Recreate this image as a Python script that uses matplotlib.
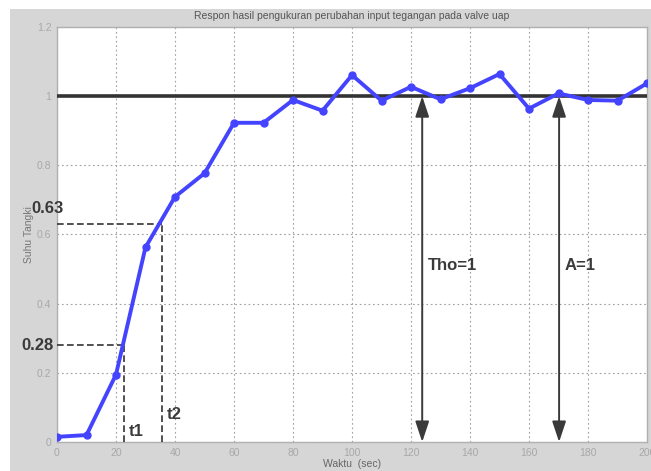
import matplotlib
matplotlib.use("Agg")
import matplotlib.pyplot as plt
from matplotlib.patches import Rectangle

plt.rcParams["font.family"] = ["Liberation Sans", "DejaVu Sans"]

# Data: step response of tank temperature
waktu = [0, 10, 20, 30, 40, 50, 60, 70, 80, 90, 100,
         110, 120, 130, 140, 150, 160, 170, 180, 190, 200]
suhu = [0.015, 0.02, 0.195, 0.563, 0.709, 0.777, 0.923, 0.923, 0.989, 0.958, 1.061,
        0.987, 1.027, 0.991, 1.023, 1.064, 0.964, 1.008, 0.989, 0.987, 1.037]

setpoint = 1.0
level_labels = ["0.28", "0.63"]
levels = [0.28, 0.63]
t_marks = [22.7, 35.6]
t_names = ["t1", "t2"]
arrow_x = [123.8, 170.2]
arrow_names = ["Tho=1", "A=1"]

x_ticks = list(range(0, 201, 20))
y_ticks = [0, 0.2, 0.4, 0.6, 0.8, 1.0, 1.2]
y_ticklabels = ["0", "0.2", "0.4", "0.6", "0.8", "1", "1.2"]

W, H = 651, 471
fig = plt.figure(figsize=(W / 100, H / 100), dpi=100, facecolor="white")

# gray window background
bg = Rectangle((10 / W, 0), 1 - 10 / W, 1 - 9 / H, transform=fig.transFigure,
               facecolor="#d6d6d6", edgecolor="none", zorder=-10)
fig.add_artist(bg)

ax = fig.add_axes([57 / W, (H - 442) / H, 590 / W, 415 / H])
ax.set_zorder(1)
ax.set_facecolor("white")
ax.set_xlim(0, 200)
ax.set_ylim(0, 1.2)
ax.set_xticks(x_ticks)
ax.set_yticks(y_ticks)
ax.set_yticklabels(y_ticklabels)
ax.tick_params(colors="#a8a8a8", labelsize=7.5, length=0, pad=4)
ax.grid(True, color="#a0a0a0", linestyle=(0, (1.5, 2.5)), linewidth=0.8)
for s in ax.spines.values():
    s.set_color("#b0b0b0")
    s.set_linewidth(1.0)

ax.set_title("Respon hasil pengukuran perubahan input tegangan pada valve uap",
             fontsize=7.5, color="#555555", pad=6)
ax.set_xlabel("Waktu  (sec)", fontsize=7.5, color="#666666", labelpad=1)
ax.set_ylabel("Suhu Tangki", fontsize=7.5, color="#777777", labelpad=2)

# setpoint line
ax.axhline(setpoint, color="#333333", lw=2.6, zorder=3)

# measured response
ax.plot(waktu, suhu, color="#4444ff", lw=2.8, marker="o", markersize=5,
        zorder=4, solid_joinstyle="round")

# t1 / t2 construction lines
dash = (0, (4, 2))
for lv, tm in zip(levels, t_marks):
    ax.plot([0, tm], [lv, lv], color="#333333", lw=1.2, linestyle=dash, zorder=3)
    ax.plot([tm, tm], [0, lv], color="#333333", lw=1.2, linestyle=dash, zorder=3)

label_style = dict(fontsize=12, fontweight="bold", color="#3a3a3a")
ax.text(-1.3, levels[0], level_labels[0], ha="right", va="center", **label_style)
ax.text(-8.8, 0.675, level_labels[1], ha="left", va="center", **label_style)
ax.text(t_marks[0] + 1.5, 0.03, t_names[0], ha="left", va="center", **label_style)
ax.text(t_marks[1] + 1.5, 0.08, t_names[1], ha="left", va="center", **label_style)

# double arrows for time constant and amplitude
for xa, nm in zip(arrow_x, arrow_names):
    ax.annotate("", xy=(xa, 0), xytext=(xa, setpoint),
                arrowprops=dict(arrowstyle="<|-|>,head_width=0.3,head_length=0.9",
                                color="#3a3a3a", lw=1.4,
                                mutation_scale=14, shrinkA=0, shrinkB=0),
                zorder=5)
    ax.text(xa + 2, 0.51, nm, ha="left", va="center", **label_style)

fig.savefig("out.png", dpi=100, facecolor=fig.get_facecolor())
